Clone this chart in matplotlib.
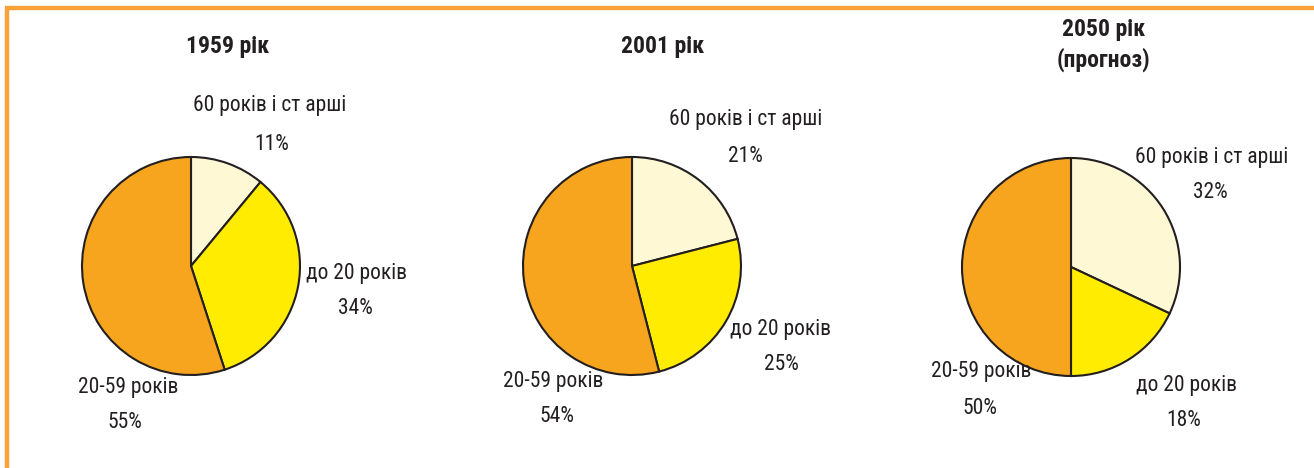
import matplotlib
matplotlib.use("Agg")
import matplotlib.pyplot as plt

titles = ["1959 рік", "2001 рік", "2050 рік\n(прогноз)"]
categories = ["60 років і ст арші", "до 20 років", "20-59 років"]
values = [
    [11, 34, 55],
    [21, 25, 54],
    [32, 18, 50],
]
colors = ["#FFF8D5", "#FFEC00", "#F7A51F"]

W, H = 1314, 468
fig = plt.figure(figsize=(W / 100, H / 100), dpi=100)
ax = fig.add_axes([0, 0, 1, 1])
ax.set_xlim(0, W)
ax.set_ylim(0, H)
ax.set_aspect("equal")
ax.axis("off")

font = ["Roboto Condensed", "DejaVu Sans"]
tcol = "#231F20"

centers = [(191, 266), (632, 266), (1071, 267)]
radius = 109
title_pos = [(228, 46), (663, 46), (1104, 45)]
# label positions (pixel coords, top-left origin): name line, percent line
label_pos = [
    [((270, 105), (272, 145)), ((357, 273), (355, 308)), ((128, 387), (125, 422))],
    [((746, 120), (745, 157)), ((781, 329), (781, 364)), ((553, 382), (557, 416))],
    [((1212, 157), (1210, 192)), ((1187, 385), (1184, 420)), ((981, 372), (980, 408))],
]

for i in range(3):
    cx, cy = centers[i]
    ax.pie(values[i], colors=colors, startangle=90, counterclock=False,
           center=(cx, H - cy), radius=radius,
           wedgeprops=dict(edgecolor=tcol, linewidth=1.5), frame=True)
    tx, ty = title_pos[i]
    ax.text(tx, H - ty, titles[i], ha="center", va="center", fontsize=17,
            fontweight="bold", family=font, color=tcol, linespacing=1.3)
    for j in range(3):
        (nx, ny), (px, py) = label_pos[i][j]
        ax.text(nx, H - ny, categories[j], ha="center", va="center",
                fontsize=15.5, family=font, color=tcol)
        ax.text(px, H - py, f"{values[i][j]}%", ha="center", va="center",
                fontsize=15.5, family=font, color=tcol)

ax.set_xlim(0, W)
ax.set_ylim(0, H)
ax.axis("off")

border = "#F9A23A"
ax.plot([5, W], [H - 8, H - 8], color=border, lw=3.2, solid_capstyle="butt")
ax.plot([7, 7], [H - 8, 0], color=border, lw=3.2, solid_capstyle="butt")

fig.savefig("out.png", dpi=100)
